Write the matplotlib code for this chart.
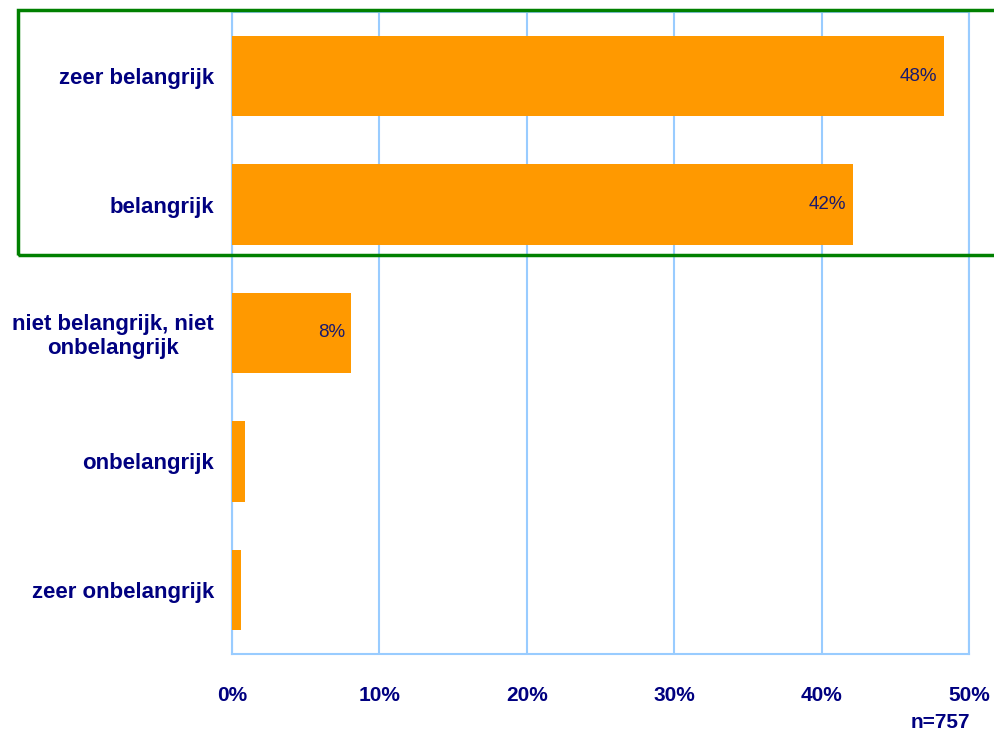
import matplotlib
matplotlib.use("Agg")
import matplotlib.pyplot as plt
from matplotlib.patches import Rectangle

categories = ["zeer belangrijk", "belangrijk", "niet belangrijk, niet\nonbelangrijk",
              "onbelangrijk", "zeer onbelangrijk"]
values = [48.3, 42.1, 8.1, 0.9, 0.6]
value_labels = ["48%", "42%", "8%", "", ""]
ticks = [0, 10, 20, 30, 40, 50]
tick_labels = ["0%", "10%", "20%", "30%", "40%", "50%"]
n_text = "n=757"

navy = "#000080"
orange = "#FF9900"
grid_blue = "#99CCFF"

fig = plt.figure(figsize=(9.94, 7.35), dpi=100)
ax = fig.add_axes([232 / 994, 1 - 654 / 735, (969 - 232) / 994, (654 - 12) / 735])

ypos = list(range(len(categories)))
ax.barh(ypos, values, height=0.625, color=orange, zorder=3)
ax.set_ylim(len(categories) - 0.5, -0.5)
ax.set_xlim(0, 50)

ax.set_xticks(ticks)
ax.set_xticklabels(tick_labels, fontfamily="Liberation Sans", fontweight="bold",
                   fontsize=15, color=navy)
ax.set_yticks(ypos)
ax.set_yticklabels(categories, fontfamily="Liberation Sans", fontweight="bold", fontsize=16,
                   color=navy, linespacing=1.15, multialignment="center")
ax.tick_params(axis="y", length=0, pad=13)
ax.tick_params(axis="x", length=0, pad=23)

ax.grid(axis="x", color=grid_blue, linewidth=1.5, zorder=0)
for s in ax.spines.values():
    s.set_color(grid_blue)
    s.set_linewidth(1.5)

for y, v, lab in zip(ypos, values, value_labels):
    if lab:
        ax.text(v - 0.45, y, lab, ha="right", va="center", fontsize=13.5,
                fontfamily="Liberation Sans", color="#1a1a6e", zorder=4)

fig.text(970 / 994, 1 - 723 / 735, n_text, ha="right", va="center",
         fontfamily="Liberation Sans", fontweight="bold", fontsize=15, color=navy)

# green highlight box
fig.patches.append(Rectangle((18 / 994, 1 - 255 / 735), 1.0, (255 - 10) / 735,
                             transform=fig.transFigure, fill=False, edgecolor="#008000",
                             linewidth=2.5, zorder=10))

fig.savefig("out.png", dpi=100)
